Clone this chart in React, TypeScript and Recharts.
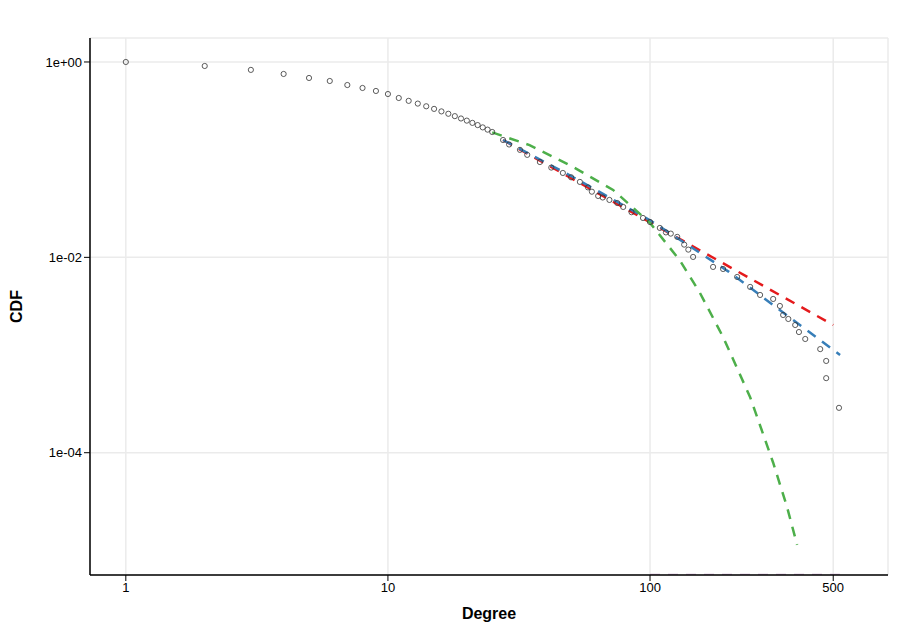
import { ComposedChart, Scatter, Line, XAxis, YAxis, CartesianGrid, Label } from "recharts";

const degrees = [
  1, 2, 3, 4, 5, 6, 7, 8, 9, 10, 11, 12, 13, 14, 15, 16, 17, 18, 19, 20, 21, 22, 23, 24, 25,
  27.5, 29, 31.9, 34, 38, 42, 46.5, 50, 54, 58, 60, 63.4, 66, 70, 75, 79, 85, 94, 100, 109,
  115, 120, 127, 135, 140, 146, 174, 190, 215, 241, 263, 295, 313, 322, 337, 358, 370, 391,
  446, 470, 470, 526,
];
const cdf = [
  1.0, 0.91, 0.83, 0.754, 0.686, 0.639, 0.581, 0.542, 0.505, 0.47, 0.428, 0.4, 0.375, 0.352,
  0.331, 0.312, 0.295, 0.279, 0.264, 0.251, 0.238, 0.226, 0.214, 0.203, 0.192,
  0.159, 0.143, 0.126, 0.112, 0.0946, 0.083, 0.0731, 0.066, 0.0592, 0.052, 0.047, 0.0425,
  0.041, 0.0387, 0.036, 0.0328, 0.029, 0.0253, 0.023, 0.02, 0.018, 0.0175, 0.0162, 0.0135,
  0.012, 0.0101, 0.00798, 0.0076, 0.0063, 0.00498, 0.00412, 0.00375, 0.00318, 0.00257,
  0.00234, 0.00203, 0.00172, 0.00146, 0.00115, 0.00087, 0.00058, 0.000288,
];

const powerLaw = [
  { x: 27.5, y: 0.159 },
  { x: 500, y: 0.00203 },
];
const cutoff = [
  { x: 27.5, y: 0.159 },
  { x: 50, y: 0.068 },
  { x: 100, y: 0.024 },
  { x: 200, y: 0.0071 },
  { x: 531, y: 0.001 },
];
const lognormal = [
  { x: 25, y: 0.19 },
  { x: 34.7, y: 0.141 },
  { x: 50.9, y: 0.0841 },
  { x: 72.3, y: 0.049 },
  { x: 100, y: 0.0225 },
  { x: 130, y: 0.0093 },
  { x: 155, y: 0.00433 },
  { x: 190, y: 0.00153 },
  { x: 241, y: 0.00037 },
  { x: 295, y: 0.000079 },
  { x: 333, y: 0.000028 },
  { x: 364, y: 0.0000114 },
];
const exponential = [
  { x: 100, y: 0.0000056 },
  { x: 530, y: 0.0000056 },
];

const xTicks = [1, 10, 100, 500];
const yTicks = [1, 0.01, 0.0001];
const yTickLabels = ["1e+00", "1e-02", "1e-04"];

const points = degrees.map((d, i) => ({ x: d, y: cdf[i] }));

const font = "'Liberation Sans', Arial, sans-serif";
const tick = { fontSize: 13, fill: "#000", fontFamily: font };

export default function App() {
  return (
    <div style={{ position: "absolute", left: 0, top: 0, background: "#fff" }}>
      <ComposedChart width={908} height={638} margin={{ top: 38, right: 20, bottom: 13, left: 30 }}>
        <CartesianGrid stroke="#ebebeb" strokeWidth={1.5} />
        <XAxis
          type="number"
          dataKey="x"
          scale="log"
          domain={[0.73, 809]}
          ticks={xTicks}
          allowDataOverflow
          tick={tick}
          tickLine={{ stroke: "#000" }}
          axisLine={{ stroke: "#000", strokeWidth: 1.5 }}
          height={50}
        >
          <Label value="Degree" position="insideBottom" offset={6} style={{ fontSize: 16, fontWeight: "bold", fill: "#000", fontFamily: font }} />
        </XAxis>
        <YAxis
          type="number"
          dataKey="y"
          scale="log"
          domain={[0.0000056, 1.76]}
          ticks={yTicks}
          allowDataOverflow
          tickFormatter={(v: number) => yTickLabels[yTicks.indexOf(v)] ?? ""}
          tick={tick}
          tickLine={{ stroke: "#000" }}
          axisLine={{ stroke: "#000", strokeWidth: 1.5 }}
          width={60}
        >
          <Label value="CDF" angle={-90} position="insideLeft" offset={-14} style={{ fontSize: 16, fontWeight: "bold", fill: "#000", fontFamily: font, textAnchor: "middle" }} />
        </YAxis>
        <Scatter data={points} fill="#fff" stroke="#333" strokeWidth={0.8} shape={(p: any) => <circle cx={p.cx} cy={p.cy} r={2.6} fill="none" stroke="#333" strokeWidth={0.8} />} isAnimationActive={false} />
        <Line data={exponential} dataKey="y" stroke="#c9a6d0" strokeWidth={2.5} strokeDasharray="10 8" dot={false} isAnimationActive={false} />
        <Line data={powerLaw} dataKey="y" stroke="#E41A1C" strokeWidth={2.5} strokeDasharray="10 8" dot={false} isAnimationActive={false} />
        <Line data={cutoff} dataKey="y" stroke="#377EB8" strokeWidth={2.5} strokeDasharray="10 8" dot={false} isAnimationActive={false} />
        <Line data={lognormal} dataKey="y" stroke="#4DAF4A" strokeWidth={2.5} strokeDasharray="10 8" dot={false} isAnimationActive={false} />
      </ComposedChart>
    </div>
  );
}
